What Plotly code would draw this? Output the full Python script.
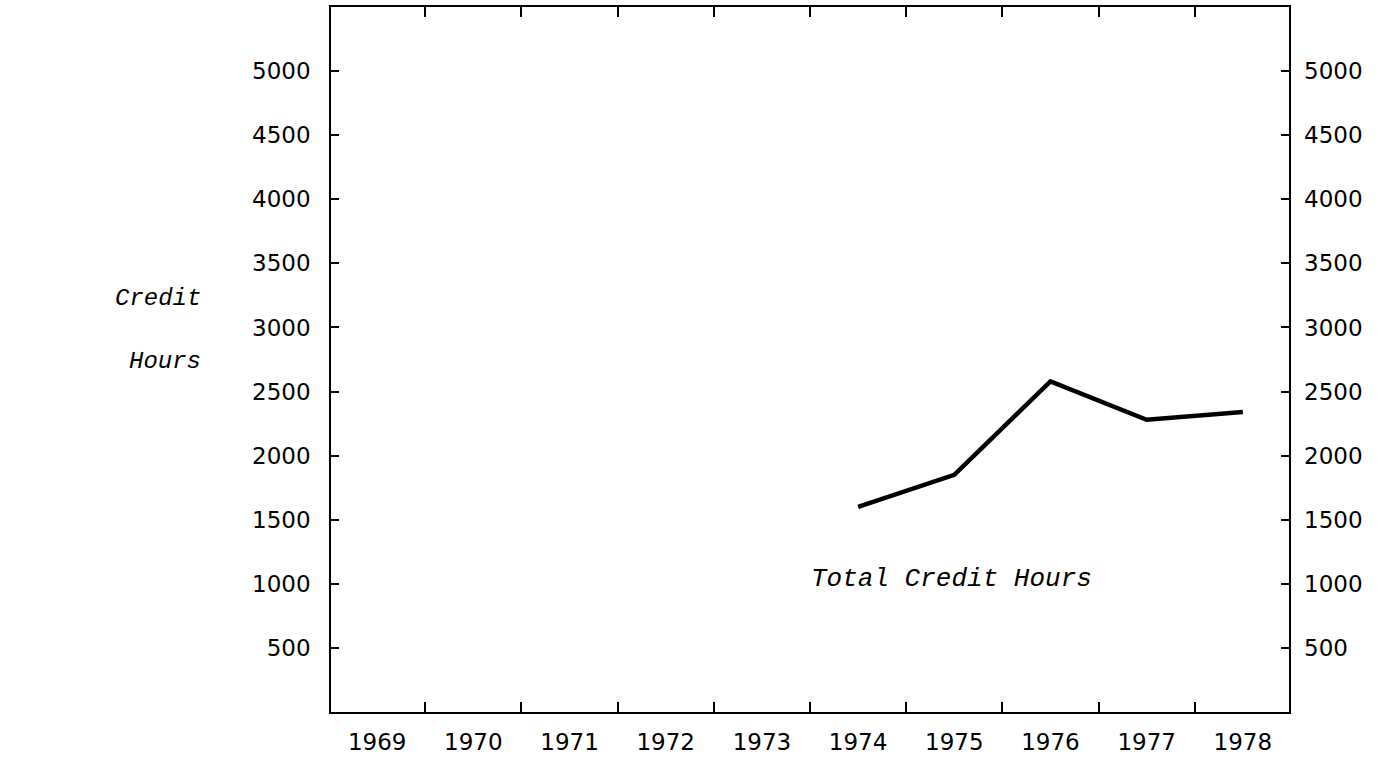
import plotly.graph_objects as go

# Credit hours by year
years = [1974, 1975, 1976, 1977, 1978]
credit_hours = [1600, 1850, 2580, 2280, 2340]

year_ticks = list(range(1969, 1979))
year_labels = [str(y) for y in year_ticks]
hour_ticks = [500, 1000, 1500, 2000, 2500, 3000, 3500, 4000, 4500, 5000]
hour_labels = [str(v) for v in hour_ticks]
year_bounds = [y + 0.5 for y in range(1969, 1978)]

X_RANGE = [1968.52, 1978.48]
Y_RANGE = [0, 5500]

tick_font = dict(family="DejaVu Sans", size=23, color="black")
type_font = "Liberation Mono"

MARGIN_L, MARGIN_R, MARGIN_T, MARGIN_B = 331, 101, 7, 47
W, H = 1390, 759
plot_w = W - MARGIN_L - MARGIN_R
plot_h = H - MARGIN_T - MARGIN_B


def px_to_paper(px, py):
    """Convert page pixel position to paper coordinates."""
    return (px - MARGIN_L) / plot_w, 1 - (py - MARGIN_T) / plot_h


fig = go.Figure()
fig.add_trace(go.Scatter(
    x=years, y=credit_hours, mode="lines",
    line=dict(color="black", width=4.5),
    xaxis="x", yaxis="y", hoverinfo="skip", showlegend=False,
))
# invisible trace to activate the secondary axes
fig.add_trace(go.Scatter(
    x=[X_RANGE[0]], y=[0], mode="markers", marker=dict(opacity=0),
    xaxis="x2", yaxis="y2", hoverinfo="skip", showlegend=False,
))

cx, cy = px_to_paper(158, 298)
hx, hy = px_to_paper(165, 362)

fig.update_layout(
    width=W, height=H,
    margin=dict(l=MARGIN_L, r=MARGIN_R, t=MARGIN_T, b=MARGIN_B),
    paper_bgcolor="white", plot_bgcolor="white",
    xaxis=dict(
        range=X_RANGE, tickvals=year_ticks, ticktext=year_labels,
        ticks="", showgrid=False, zeroline=False,
        showline=True, linecolor="black", linewidth=1.5, mirror=True,
        tickfont=tick_font, ticklabelstandoff=9, automargin=False,
    ),
    xaxis2=dict(
        range=X_RANGE, overlaying="x", side="bottom",
        tickvals=year_bounds, showticklabels=False,
        ticks="inside", ticklen=10, tickwidth=1.5, tickcolor="black",
        showgrid=False, zeroline=False, showline=False, mirror="ticks",
    ),
    yaxis=dict(
        range=Y_RANGE, tickvals=hour_ticks, ticktext=hour_labels,
        ticks="inside", ticklen=8, tickwidth=1.5, tickcolor="black",
        showgrid=False, zeroline=False,
        showline=True, linecolor="black", linewidth=1.5, mirror=True,
        tickfont=tick_font, ticklabelstandoff=14, automargin=False,
    ),
    yaxis2=dict(
        range=Y_RANGE, overlaying="y", side="right", anchor="x",
        tickvals=hour_ticks, ticktext=hour_labels,
        ticks="inside", ticklen=8, tickwidth=1.5, tickcolor="black",
        showgrid=False, zeroline=False, showline=False,
        tickfont=tick_font, ticklabelstandoff=14, automargin=False,
    ),
    annotations=[
        dict(text="<i>Total Credit Hours</i>", x=1974.97, y=1040,
             xref="x", yref="y", showarrow=False,
             font=dict(family=type_font, size=26, color="black")),
        dict(text="<i>Credit</i>", x=cx, y=cy, xref="paper", yref="paper",
             showarrow=False, xanchor="center", yanchor="middle",
             font=dict(family=type_font, size=24, color="black")),
        dict(text="<i>Hours</i>", x=hx, y=hy, xref="paper", yref="paper",
             showarrow=False, xanchor="center", yanchor="middle",
             font=dict(family=type_font, size=24, color="black")),
    ],
)

fig.write_html("out.html")
